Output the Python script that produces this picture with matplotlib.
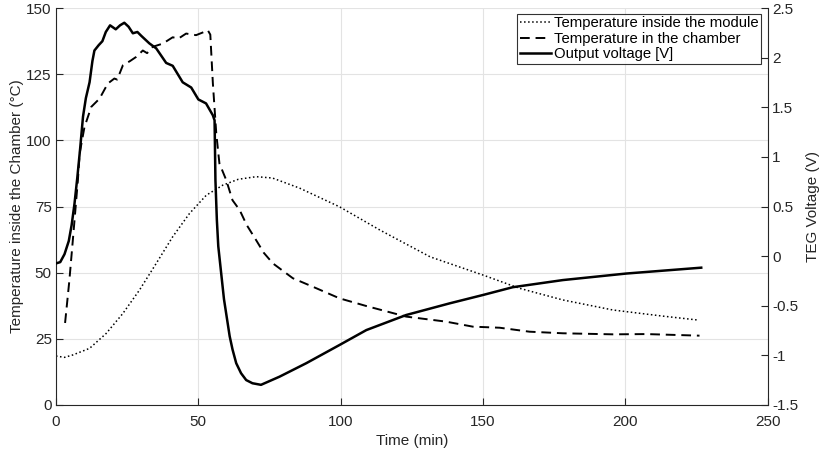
import matplotlib.pyplot as plt

plt.rcParams['font.family'] = ['Liberation Sans', 'DejaVu Sans']
plt.rcParams['font.size'] = 11

# Temperature inside the module (dotted)
module_t = [0, 3, 5.9, 11.8, 17.6, 23.5, 29.3, 35.2, 41, 46.9, 52.8, 58.6, 64, 70.3,
            76, 85.5, 99.6, 113.8, 131.4, 150, 162.8, 178, 195.6, 213, 225.5]
module_temp = [18.5, 18, 18.9, 21.4, 27, 34.6, 43.4, 53.5, 63.6, 72.4, 79.3, 83.1, 85.3, 86.3,
               85.8, 82, 74.9, 66.1, 56, 49.1, 44.1, 39.7, 35.9, 33.6, 32.1]

# Temperature in the chamber (dashed)
chamber_t = [3.2, 4.7, 5.9, 7.7, 8.3, 10, 12.4, 15.3, 18.2, 20.5, 21.5, 23.5, 26, 28.2, 30.5,
             32, 34, 37.5, 41, 43, 45.7, 49.2, 52, 53.3, 54.2, 55.1, 56.3, 57.4, 59.8, 62,
             64.5, 67, 70.3, 73, 76.2, 83.2, 90.2, 99.6, 109, 123, 137, 146.4, 155.8, 166.3,
             178, 195.6, 207.3, 226]
chamber_temp = [31, 47, 62, 85, 95, 105, 112.7, 115.8, 121.5, 123.4, 123, 128.4, 130, 131.6, 134,
                133, 135.4, 136.6, 139, 138.5, 140.4, 139.8, 141, 141.7, 140, 121.6, 102.6, 91.3,
                85, 77.4, 73.7, 68, 62.3, 57.5, 53.5, 47.9, 44.7, 40.3, 37.4, 33.4, 31.5, 29.6,
                29.2, 27.7, 27.1, 26.7, 26.8, 26.2]

# Output voltage (solid, right axis)
volt_t = [0, 1.5, 3, 4.5, 5.5, 6.5, 7.5, 8.5, 9.5, 10.5, 11.8, 12.8, 13.5, 15, 16.3, 17.5,
          19, 21, 22.5, 24, 25.5, 27, 28.6, 30, 32.8, 35.2, 38.7, 41, 44.5, 47.5, 50, 52.7,
          55.1, 55.7, 56, 56.5, 57, 58, 59, 60, 61, 62, 63.3, 65, 66.8, 69, 72, 78.5, 87.9,
          99.6, 109, 123, 138.2, 150, 160.4, 178, 200.3, 226.6]
voltage = [-0.073, -0.06, 0.02, 0.153, 0.313, 0.527, 0.793, 1.087, 1.407, 1.593, 1.753, 1.967,
           2.073, 2.127, 2.167, 2.26, 2.327, 2.287, 2.327, 2.353, 2.313, 2.247, 2.26, 2.22,
           2.145, 2.095, 1.948, 1.919, 1.753, 1.7, 1.58, 1.54, 1.42, 1.369, 0.767, 0.367,
           0.1, -0.167, -0.433, -0.62, -0.807, -0.94, -1.079, -1.18, -1.249, -1.281, -1.297,
           -1.215, -1.079, -0.895, -0.745, -0.593, -0.476, -0.391, -0.313, -0.241, -0.175,
           -0.116]

axis_col = '#262626'

fig = plt.figure(figsize=(8.23, 4.54), dpi=100)
ax = fig.add_axes([0.068, 0.108, 0.865, 0.874])
ax2 = ax.twinx()

l1, = ax.plot(module_t, module_temp, color='black', linestyle=':', linewidth=1.1,
              label='Temperature inside the module')
l2, = ax.plot(chamber_t, chamber_temp, color='black', linestyle=(0, (5, 3)), linewidth=1.4,
              label='Temperature in the chamber')
l3, = ax2.plot(volt_t, voltage, color='black', linestyle='-', linewidth=1.8,
               label='Output voltage [V]')

ax.set_xlim(0, 250)
ax.set_ylim(0, 150)
ax.set_xticks([0, 50, 100, 150, 200, 250])
ax.set_yticks([0, 25, 50, 75, 100, 125, 150])
ax2.set_ylim(-1.5, 2.5)
ax2.set_yticks([-1.5, -1, -0.5, 0, 0.5, 1, 1.5, 2, 2.5])
ax2.set_yticklabels(['-1.5', '-1', '-0.5', '0', '0.5', '1', '1.5', '2', '2.5'])

ax.grid(True, color='#e3e3e3', linewidth=0.8)
ax.set_axisbelow(True)

for a in (ax, ax2):
    a.spines['top'].set_visible(False)
    for s in ('left', 'right', 'bottom'):
        a.spines[s].set_color(axis_col)
        a.spines[s].set_linewidth(0.8)
    a.tick_params(direction='in', colors=axis_col, length=5, width=0.8, labelsize=11, pad=3)
ax.tick_params(axis='x', pad=7)
ax.spines['right'].set_visible(False)
ax2.spines['left'].set_visible(False)
ax2.spines['bottom'].set_visible(False)

ax.set_xlabel('Time (min)', color=axis_col, fontsize=11, labelpad=4)
ax.set_ylabel('Temperature inside the Chamber (°C)', color=axis_col, fontsize=11, labelpad=2)
ax2.set_ylabel('TEG Voltage (V)', color=axis_col, fontsize=11, labelpad=6)

leg = ax2.legend(handles=[l1, l2, l3], loc='upper right', bbox_to_anchor=(0.99, 0.985),
                 fontsize=10.7, frameon=True, fancybox=False, borderpad=0.15,
                 labelspacing=0.1, handlelength=2.1, handletextpad=0.2, borderaxespad=0)
leg.get_frame().set_edgecolor('black')
leg.get_frame().set_linewidth(0.8)

fig.savefig('out.png', dpi=100)
